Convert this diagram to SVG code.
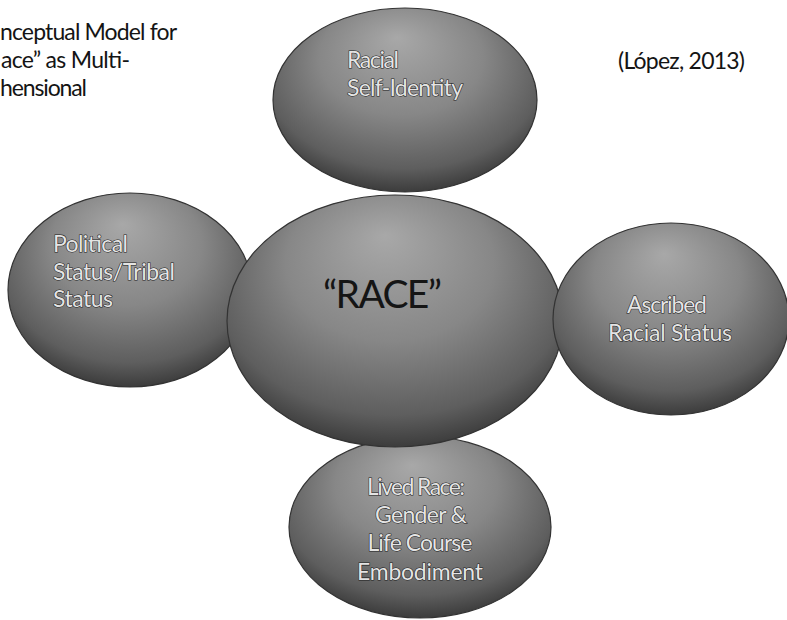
<svg xmlns="http://www.w3.org/2000/svg" width="787" height="620" viewBox="0 0 787 620">
  <defs>
    <radialGradient id="fillG" cx="0.5" cy="0.38" r="0.62" fx="0.47" fy="0.16">
      <stop offset="0" stop-color="#a8a8a8"/>
      <stop offset="0.5" stop-color="#878787"/>
      <stop offset="0.85" stop-color="#5e5e5e"/>
      <stop offset="1" stop-color="#3c3c3c"/>
    </radialGradient>
    <style>
      .blob { fill: url(#fillG); stroke: #333333; stroke-width: 1.2; }
      .t { font-family: Lato, "Open Sans", "Liberation Sans", sans-serif; font-size: 23px; fill: #141414; }
      .lbl { font-family: Lato, "Open Sans", "Liberation Sans", sans-serif; font-size: 23px; fill: #e4e4e4; stroke: #1a1a1a; stroke-width: 1.1; paint-order: stroke; }
      .mid { text-anchor: middle; }
      .core { font-family: Lato, "Open Sans", "Liberation Sans", sans-serif; font-size: 39px; fill: #151515; }
    </style>
  </defs>
  <rect width="787" height="620" fill="#ffffff"/>

  <g id="title">
    <text class="t" x="0" y="40" textLength="177">nceptual Model for</text>
    <text class="t" x="1" y="68" textLength="129">ace” as Multi-</text>
    <text class="t" x="0" y="96" textLength="87">hensional</text>
  </g>
  <g id="citation">
    <text class="t" x="618" y="69" textLength="127">(López, 2013)</text>
  </g>

  <g id="connectors"></g>

  <g id="node-self-identity">
    <ellipse class="blob" cx="405" cy="100" rx="132" ry="92"/>
    <text class="lbl" x="347" y="68" textLength="52">Racial</text>
    <text class="lbl" x="347" y="96" textLength="116">Self-Identity</text>
  </g>

  <g id="node-political">
    <ellipse class="blob" cx="130" cy="290" rx="122" ry="97"/>
    <text class="lbl" x="53" y="252" textLength="75">Political</text>
    <text class="lbl" x="53" y="280" textLength="122">Status/Tribal</text>
    <text class="lbl" x="53" y="307" textLength="60">Status</text>
  </g>

  <g id="node-lived-race">
    <ellipse class="blob" cx="420" cy="527" rx="131" ry="91"/>
    <text class="lbl mid" x="416" y="495" textLength="98">Lived Race:</text>
    <text class="lbl mid" x="421" y="523" textLength="92">Gender &amp;</text>
    <text class="lbl mid" x="420" y="551" textLength="105">Life Course</text>
    <text class="lbl mid" x="420" y="580" textLength="126">Embodiment</text>
  </g>

  <g id="node-race">
    <ellipse class="blob" cx="395" cy="321" rx="168" ry="126"/>
    <text class="core" x="323" y="308" textLength="119">“RACE”</text>
  </g>

  <g id="node-ascribed">
    <ellipse class="blob" cx="671" cy="319" rx="118" ry="96"/>
    <text class="lbl mid" x="667" y="313" textLength="80">Ascribed</text>
    <text class="lbl mid" x="670" y="341" textLength="124">Racial Status</text>
  </g>
</svg>
